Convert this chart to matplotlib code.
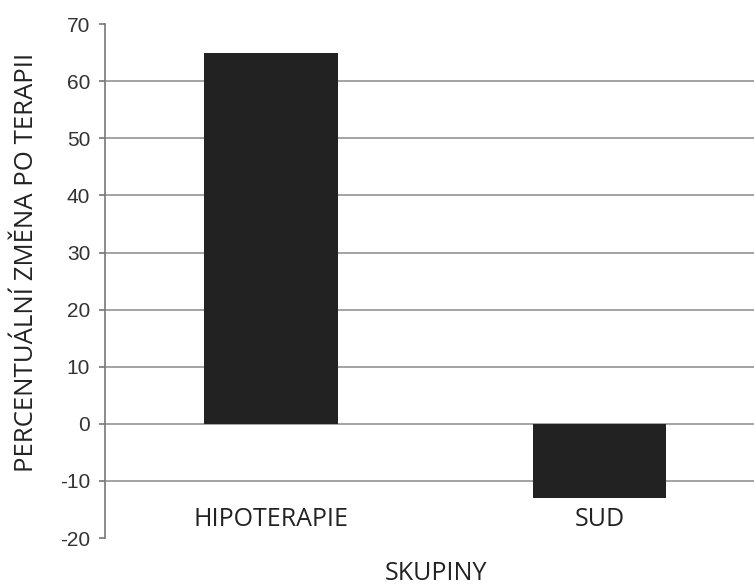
import matplotlib.pyplot as plt

groups = ["HIPOTERAPIE", "SUD"]
change = [65, -13]
yticks = [-20, -10, 0, 10, 20, 30, 40, 50, 60, 70]

fig = plt.figure(figsize=(7.54, 5.88), dpi=100)
ax = fig.add_axes([0.139, 0.085, 0.861, 0.874])

x = list(range(len(groups)))
ax.bar(x, change, width=0.407, color="#222222", zorder=3)

ax.set_ylim(-20, 70)
ax.set_xlim(-0.505, 1.47)
ax.set_yticks(yticks)
ax.set_yticklabels([str(v) for v in yticks], fontsize=15, family="Liberation Sans", color="#333333")
ax.grid(axis="y", color="#8a8a8a", linewidth=1.1, zorder=1)
grid = ax.get_ygridlines()
grid[0].set_visible(False)
grid[-1].set_visible(False)

for s in ["top", "right", "bottom"]:
    ax.spines[s].set_visible(False)
ax.spines["left"].set_color("#777777")
ax.spines["left"].set_linewidth(1.2)
ax.tick_params(axis="y", length=4.5, color="#777777", width=1.2, pad=6)
ax.set_xticks([])

# category labels sit below the bars, inside the axes
for xi, name in zip(x, groups):
    ax.text(xi, -16.8, name, ha="center", va="center", fontsize=18,
            family="Open Sans", color="#222222")

fig.text(0.578, 0.004, "SKUPINY", ha="center", va="bottom", fontsize=18,
         family="Open Sans", color="#222222")
fig.text(0.035, 0.553, "PERCENTUÁLNÍ ZMĚNA PO TERAPII", rotation=90, ha="center",
         va="center", fontsize=18.5, family="Open Sans", color="#222222")

plt.savefig("out.png")
